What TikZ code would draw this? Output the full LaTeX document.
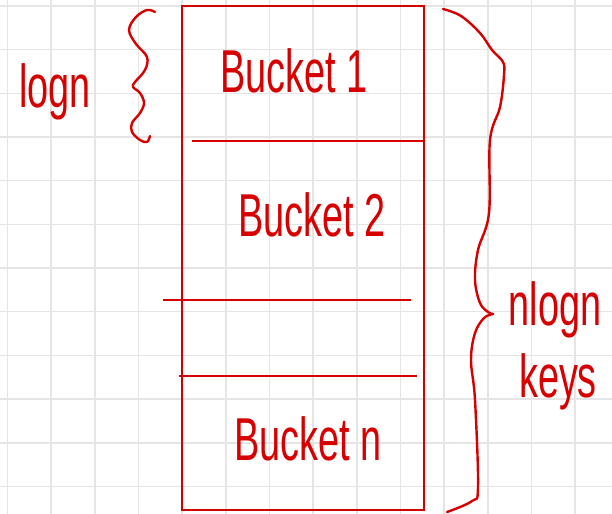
\documentclass[tikz,border=0pt]{standalone}
\usepackage{fontspec}
\setmainfont{Liberation Sans}
\definecolor{ink}{RGB}{214,0,0}
\definecolor{gridgray}{RGB}{229,229,229}
\tikzset{
  inkline/.style={draw=ink, line width=2bp},
  bracestroke/.style={draw=ink, line width=2.4bp, line cap=round, line join=round},
  hand/.style={text=ink, inner sep=0pt, anchor=base, yscale=1.6,
    font=\fontsize{38}{38}\selectfont},
}
\begin{document}
\begin{tikzpicture}[x=1bp, y=-1bp]
  \useasboundingbox (0,0) rectangle (612,514);
  \fill[white] (0,0) rectangle (612,514);
  % squared paper
  \foreach \i in {0,...,13} {
    \draw[gridgray, line width=1.6bp] ({7.5+43.67*\i},0) -- ({7.5+43.67*\i},514);
  }
  \foreach \j in {0,...,11} {
    \draw[gridgray, line width=1.6bp] (0,{6+43.67*\j}) -- (612,{6+43.67*\j});
  }

  % bucket column
  \coordinate (tl) at (182,6);
  \coordinate (br) at (424,510);
  \draw[inkline] (tl) rectangle (br);
  \coordinate (d1a) at (192,141); \coordinate (d1b) at (424,141);
  \coordinate (d2a) at (163,300); \coordinate (d2b) at (411,300);
  \coordinate (d3a) at (179,376); \coordinate (d3b) at (417,376);
  \draw[inkline] (d1a) -- (d1b);
  \draw[inkline] (d2a) -- (d2b);
  \draw[inkline] (d3a) -- (d3b);

  \node[hand] (b1) at (294,93) {Bucket 1};
  \node[hand] (b2) at (312,237) {Bucket 2};
  \node[hand] (bn) at (308,460) {Bucket n};

  % brace spanning one bucket
  \draw[bracestroke] plot[smooth, tension=0.6] coordinates {
    (155,12) (147,10) (136,17) (129,30) (136,44) (147,57) (145,70)
    (135,82) (133,87) (140,93) (144,103) (140,113) (132,123) (132,132)
    (140,140) (147,142) (150,136)};
  \node[hand] (lg) at (55,108) {logn};

  % brace spanning all buckets
  \draw[bracestroke] plot[smooth, tension=0.6] coordinates {
    (443,9) (461,16) (480,33) (492,50) (503,62) (504,75) (500,107)
    (490,140) (489,213) (478,250) (475,280) (480,303) (488,312) (493,314)};
  \draw[bracestroke] plot[smooth, tension=0.6] coordinates {
    (493,314) (484,318) (475,333) (471,360) (475,400) (478,487)
    (472,501) (447,512)};
  \node[hand] (nl) at (555,325) {nlogn};
  \node[hand] (ks) at (558,397) {keys};
\end{tikzpicture}
\end{document}
